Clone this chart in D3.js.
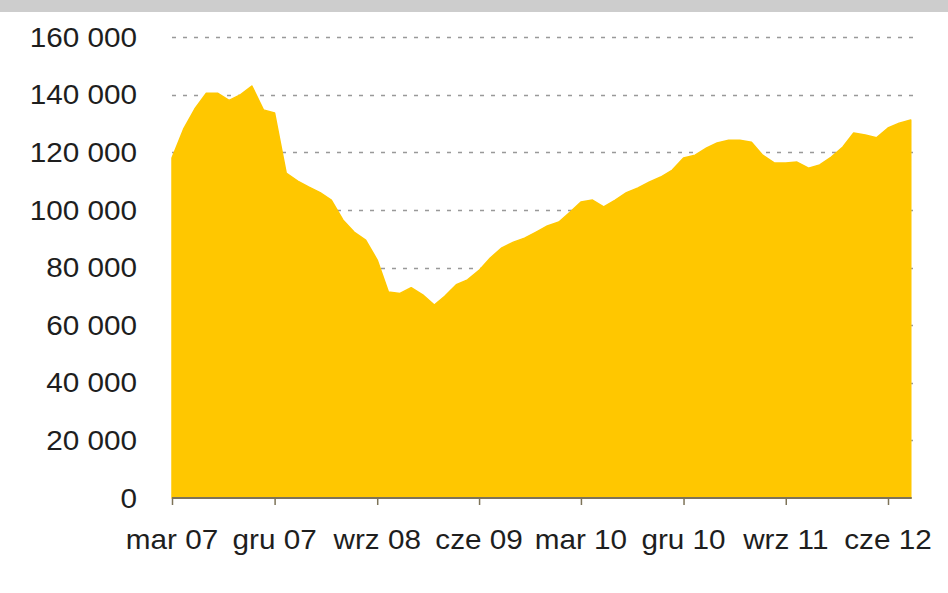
<!DOCTYPE html>
<html>
<head>
<meta charset="utf-8">
<script src="https://cdn.jsdelivr.net/npm/d3@7/dist/d3.min.js"></script>
<style>
  html, body { margin: 0; padding: 0; background: #ffffff; }
  svg { display: block; }
  text { font-family: "Liberation Sans", Arial, sans-serif; fill: #1e1e1e; }
</style>
</head>
<body>
<svg id="chart" width="948" height="593"></svg>
<script>
// ---- data (monthly, mar 2007 .. sie 2012) ----
const startMonth = [2007, 2]; // March 2007
const values = [
  118000, 128000, 135000, 140500, 140500, 138000, 140000, 143000, 134700, 133600,
  112800, 110000, 108000, 106000, 103400, 96500, 92300, 89500, 82600, 71500,
  71000, 73000, 70500, 67000, 70000, 74000, 75700, 79000, 83300, 86800,
  88800, 90200, 92300, 94400, 95800, 99300, 102700, 103400, 101000, 103400,
  106000, 107600, 109700, 111400, 113800, 118000, 119000, 121500, 123200, 124200,
  124200, 123500, 119000, 116300, 116300, 116600, 114500, 115600, 118300, 121800,
  126700, 126000, 125000, 128400, 130100, 131200
];
const tickLabels = ["mar 07", "gru 07", "wrz 08", "cze 09", "mar 10", "gru 10", "wrz 11", "cze 12"];
const yTicks = [0, 20000, 40000, 60000, 80000, 100000, 120000, 140000, 160000];

// ---- build ----
const start = new Date(startMonth[0], startMonth[1], 1);
const data = values.map((v, i) => ({ date: d3.timeMonth.offset(start, i), v }));
const tickDates = tickLabels.map((_, i) => d3.timeMonth.offset(start, i * 9));

const svg = d3.select("#chart");
const x = d3.scaleTime()
  .domain([start, d3.timeMonth.offset(start, 63)])
  .range([172, 888]);
const y = d3.scaleLinear().domain([0, 160000]).range([498, 37]);
const xEnd = x(data[data.length - 1].date);

// top grey band (cut-off header)
svg.append("rect").attr("x", 0).attr("y", 0).attr("width", 948).attr("height", 12)
  .attr("fill", "#cdcdcd");

// gridlines
svg.append("g").selectAll("line")
  .data(yTicks.filter(t => t > 0))
  .join("line")
  .attr("x1", 172).attr("x2", 916)
  .attr("y1", d => Math.round(y(d)) + 0.5).attr("y2", d => Math.round(y(d)) + 0.5)
  .attr("stroke", "#999999").attr("stroke-width", 1.3)
  .attr("stroke-dasharray", "4,7");

// area
const area = d3.area()
  .x(d => x(d.date))
  .y0(y(0))
  .y1(d => y(d.v));
svg.append("path").datum(data)
  .attr("d", area)
  .attr("fill", "#ffc700")
  .attr("stroke", "#ffc700")
  .attr("stroke-width", 1.5)
  .attr("stroke-linejoin", "round");

// x axis
const xAxis = d3.axisBottom(x)
  .tickValues(tickDates)
  .tickFormat("")
  .tickSizeInner(7)
  .tickSizeOuter(0);
const gx = svg.append("g").attr("transform", `translate(0,${y(0)})`).call(xAxis);
gx.select(".domain").attr("stroke", "#7d7358").attr("stroke-width", 2)
  .attr("d", `M172,0H${xEnd + 1}`);
gx.selectAll(".tick line").attr("stroke", "#7d7358").attr("stroke-width", 1.5);

// x labels
svg.append("g").selectAll("text")
  .data(tickLabels)
  .join("text")
  .attr("transform", (d, i) => `translate(${x(tickDates[i])},549) scale(1.1,1)`)
  .attr("text-anchor", "middle")
  .attr("font-size", 27)
  .text(d => d);

// y labels
const fmt = v => v === 0 ? "0" : d3.format(",")(v).replace(/,/g, " ");
svg.append("g").selectAll("text")
  .data(yTicks)
  .join("text")
  .attr("transform", d => `translate(137,${y(d)}) scale(1.1,1)`)
  .attr("dy", "0.36em")
  .attr("text-anchor", "end")
  .attr("font-size", 27)
  .text(fmt);
</script>
</body>
</html>
